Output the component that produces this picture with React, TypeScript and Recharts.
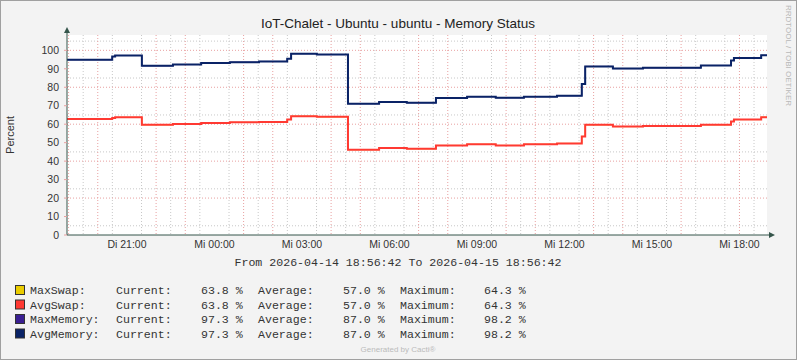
import React from 'react';
import { LineChart, Line, XAxis, YAxis, CartesianGrid } from 'recharts';

// ---------- data ----------
const title = 'IoT-Chalet - Ubuntu - ubuntu - Memory Status';
const rangeStart = '2026-04-14 18:56:42';
const rangeEnd = '2026-04-15 18:56:42';
const startMinuteOfDay = 18 * 60 + 56 + 42 / 60;

// minutes elapsed since range start
const minutes = [0, 93, 99, 154, 218, 276, 335, 395, 453, 461, 514, 578, 642, 699, 759, 823, 882, 940, 1008, 1059, 1066, 1123, 1185, 1304, 1366, 1372, 1428, 1440];
const avgMemory = [94.9, 96.6, 97.2, 91.6, 92.3, 93.1, 93.6, 94.0, 95.5, 98.2, 97.7, 71.1, 72.0, 71.6, 74.2, 74.9, 74.3, 74.9, 75.4, 81.8, 91.3, 90.1, 90.5, 91.8, 94.5, 95.8, 97.3, 97.3];
const maxMemory = [94.9, 96.6, 97.2, 91.6, 92.3, 93.1, 93.6, 94.0, 95.5, 98.2, 97.7, 71.1, 72.0, 71.6, 74.2, 74.9, 74.3, 74.9, 75.4, 81.8, 91.3, 90.1, 90.5, 91.8, 94.5, 95.8, 97.3, 97.3];
const avgSwap = [62.8, 63.3, 63.7, 59.7, 60.1, 60.7, 61.0, 61.2, 62.5, 64.3, 64.0, 46.2, 47.1, 46.7, 48.5, 49.1, 48.5, 49.1, 49.6, 53.4, 59.7, 58.7, 59.0, 59.7, 61.5, 62.5, 63.8, 63.8];
const maxSwap = [62.8, 63.3, 63.7, 59.7, 60.1, 60.7, 61.0, 61.2, 62.5, 64.3, 64.0, 46.2, 47.1, 46.7, 48.5, 49.1, 48.5, 49.1, 49.6, 53.4, 59.7, 58.7, 59.0, 59.7, 61.5, 62.5, 63.8, 63.8];

const xTickLabels = ['Di 21:00', 'Mi 00:00', 'Mi 03:00', 'Mi 06:00', 'Mi 09:00', 'Mi 12:00', 'Mi 15:00', 'Mi 18:00'];
const yTicks = [0, 10, 20, 30, 40, 50, 60, 70, 80, 90, 100];

const legendNames = ['MaxSwap:', 'AvgSwap:', 'MaxMemory:', 'AvgMemory:'];
const legendColors = ['#EACC00', '#FF3932', '#3A1F92', '#0A2366'];
const legendCurrent = ['63.8 %', '63.8 %', '97.3 %', '97.3 %'];
const legendAverage = ['57.0 %', '57.0 %', '87.0 %', '87.0 %'];
const legendMaximum = ['64.3 %', '64.3 %', '98.2 %', '98.2 %'];

// ---------- derived ----------
const data = minutes.map((m, i) => ({
  m,
  maxSwap: maxSwap[i],
  avgSwap: avgSwap[i],
  maxMemory: maxMemory[i],
  avgMemory: avgMemory[i],
}));

const dayIndex: Record<string, number> = { Di: 0, Mi: 1 };
const xTicks = xTickLabels.map((l) => {
  const [d, t] = l.split(' ');
  const [hh, mm] = t.split(':').map(Number);
  return dayIndex[d] * 1440 + hh * 60 + mm - startMinuteOfDay;
});
const tickLabelOf = (v: number) => {
  const i = xTicks.findIndex((t) => Math.abs(t - v) < 0.01);
  return i >= 0 ? xTickLabels[i] : '';
};

const minorV: number[] = [];
const majorV: number[] = [];
for (let c = Math.ceil(startMinuteOfDay / 30) * 30; c - startMinuteOfDay < 1440; c += 30) {
  const off = c - startMinuteOfDay;
  if (c % 60 === 0) majorV.push(off);
  else minorV.push(off);
}
const minorH = [5, 15, 25, 35, 45, 55, 65, 75, 85, 95, 105];
const majorH = [10, 20, 30, 40, 50, 60, 70, 80, 90, 100];

const W = 797;
const H = 360;
const axisColor = '#35554B';
const tickFont = { fontSize: 10.5, fill: '#333', fontFamily: 'Liberation Sans, Arial, sans-serif' };
const mono = 'Liberation Mono, Courier New, monospace';
const monoSize = 11.6;

export default function App() {
  const rowY = [290, 304.5, 319, 333.5];
  return (
    <div style={{ position: 'absolute', left: 0, top: 0, width: W, height: H, background: '#F3F3F3' }}>
      <LineChart
        width={W}
        height={H}
        data={data}
        margin={{ top: 35, right: 30, left: 7, bottom: 105 }}
      >
        <CartesianGrid
          fill="#FFFFFF"
          stroke="#C8C8C8"
          strokeDasharray="1 2"
          horizontalValues={minorH}
          verticalValues={minorV}
        />
        <CartesianGrid
          stroke="#E8A0A0"
          strokeDasharray="1 2"
          horizontalValues={majorH}
          verticalValues={majorV}
        />
        <XAxis
          type="number"
          dataKey="m"
          domain={[0, 1440]}
          ticks={xTicks}
          tickFormatter={tickLabelOf}
          height={20}
          tickSize={3}
          tickMargin={3}
          tickLine={false}
          axisLine={{ stroke: axisColor }}
          tick={tickFont}
          allowDataOverflow
        />
        <YAxis
          type="number"
          domain={[0, 108.3]}
          ticks={yTicks}
          width={60}
          tickSize={3}
          tickMargin={5}
          tickLine={{ stroke: '#E8A0A0' }}
          axisLine={{ stroke: axisColor }}
          tick={tickFont}
          allowDataOverflow
        />
        <Line type="stepAfter" dataKey="maxSwap" stroke={legendColors[0]} strokeWidth={1} dot={false} isAnimationActive={false} />
        <Line type="stepAfter" dataKey="maxMemory" stroke={legendColors[2]} strokeWidth={1} dot={false} isAnimationActive={false} />
        <Line type="stepAfter" dataKey="avgSwap" stroke={legendColors[1]} strokeWidth={2} dot={false} isAnimationActive={false} />
        <Line type="stepAfter" dataKey="avgMemory" stroke={legendColors[3]} strokeWidth={2} dot={false} isAnimationActive={false} />
      </LineChart>
      <svg
        width={W}
        height={H}
        style={{ position: 'absolute', left: 0, top: 0, pointerEvents: 'none' }}
      >
        <rect x={0.5} y={0.5} width={W - 1} height={H - 1} fill="none" stroke="#A0A0A0" />
        {/* axis extensions + arrows */}
        <line x1={67} y1={35} x2={67} y2={31} stroke={axisColor} />
        <polygon points="64,33 70,33 67,27" fill={axisColor} />
        <line x1={767} y1={235} x2={771} y2={235} stroke={axisColor} />
        <polygon points="769,232 769,238 775,235" fill={axisColor} />
        <text x={398} y={28} textAnchor="middle" fontFamily="Liberation Sans, Arial, sans-serif" fontSize={13.5} fill="#222">
          {title}
        </text>
        <text
          x={10}
          y={135}
          transform="rotate(-90 10 135)"
          textAnchor="middle"
          dominantBaseline="central"
          fontFamily="Liberation Sans, Arial, sans-serif"
          fontSize={11}
          fill="#333"
        >
          Percent
        </text>
        <text
          x={788}
          y={5}
          transform="rotate(90 788 5)"
          textAnchor="start"
          dominantBaseline="central"
          fontFamily="Liberation Sans, Arial, sans-serif"
          fontSize={8}
          fill="#B8B8B8"
        >
          RRDTOOL / TOBI OETIKER
        </text>
        <text x={398} y={266} textAnchor="middle" fontFamily={mono} fontSize={monoSize} fill="#333" xmlSpace="preserve">
          {`From ${rangeStart} To ${rangeEnd}`}
        </text>
        {legendNames.map((n, i) => (
          <g key={n} fontFamily={mono} fontSize={monoSize} fill="#333">
            <rect x={15.5} y={rowY[i] - 4.5} width={9} height={9} fill={legendColors[i]} stroke="#333" />
            <text x={30} y={rowY[i] + 4}>{n}</text>
            <text x={116} y={rowY[i] + 4}>Current:</text>
            <text x={201} y={rowY[i] + 4} xmlSpace="preserve">{legendCurrent[i]}</text>
            <text x={258} y={rowY[i] + 4}>Average:</text>
            <text x={343} y={rowY[i] + 4} xmlSpace="preserve">{legendAverage[i]}</text>
            <text x={400} y={rowY[i] + 4}>Maximum:</text>
            <text x={484} y={rowY[i] + 4} xmlSpace="preserve">{legendMaximum[i]}</text>
          </g>
        ))}
        <text x={398} y={352} textAnchor="middle" fontFamily="Liberation Sans, Arial, sans-serif" fontSize={8} fill="#BBBBBB">
          Generated by Cacti®
        </text>
      </svg>
    </div>
  );
}
